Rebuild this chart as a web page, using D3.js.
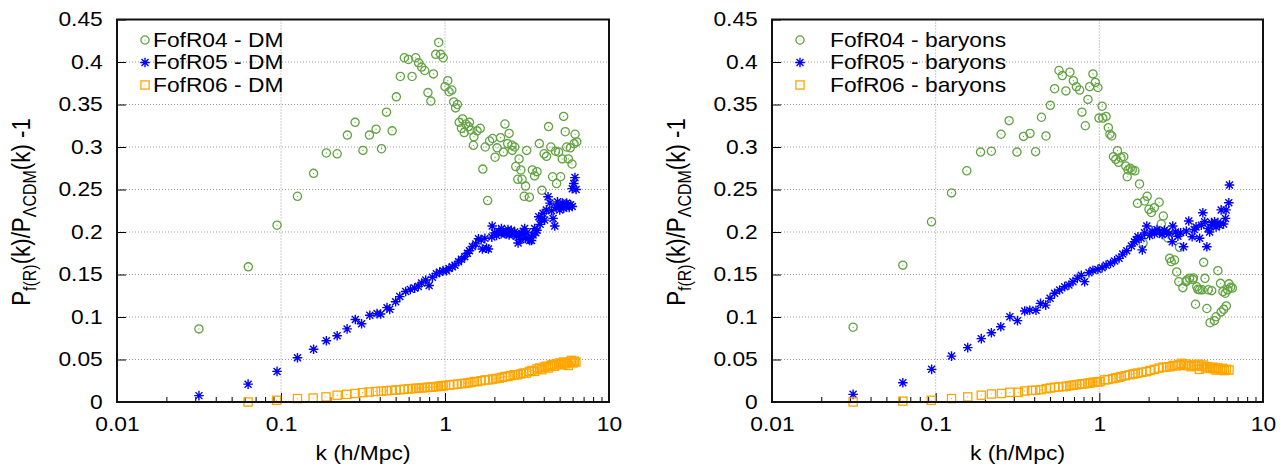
<!DOCTYPE html>
<html>
<head>
<meta charset="utf-8">
<script src="https://cdn.jsdelivr.net/npm/d3@7"></script>
<style>
body { margin: 0; background: #fff; }
text { font-family: "Liberation Sans", Arial, Helvetica, sans-serif; fill: #000; }
</style>
</head>
<body>
<svg id="chart" width="1288" height="472"></svg>
<script>
// ---- data: [k (h/Mpc), P_f(R)/P_LCDM - 1] ----
const dmR04 = [[0.0316,0.086],[0.0632,0.159],[0.0946,0.208],[0.126,0.242],[0.158,0.269],[0.189,0.293],[0.22,0.292],[0.254,0.314],[0.283,0.329],[0.316,0.296],[0.346,0.314],[0.38,0.321],[0.41,0.298],[0.44,0.341],[0.476,0.319],[0.505,0.359],[0.534,0.383],[0.565,0.405],[0.598,0.403],[0.63,0.383],[0.663,0.405],[0.69,0.399],[0.72,0.394],[0.752,0.39],[0.787,0.364],[0.82,0.354],[0.85,0.386],[0.878,0.409],[0.915,0.423],[0.941,0.409],[0.975,0.405],[1.0,0.371],[1.04,0.378],[1.06,0.365],[1.1,0.367],[1.13,0.353],[1.16,0.346],[1.19,0.35],[1.22,0.329],[1.26,0.322],[1.28,0.333],[1.31,0.317],[1.34,0.327],[1.39,0.324],[1.41,0.329],[1.44,0.32],[1.49,0.302],[1.5,0.312],[1.57,0.319],[1.64,0.322],[1.7,0.274],[1.76,0.3],[1.82,0.237],[1.87,0.307],[1.95,0.31],[2.02,0.288],[2.08,0.299],[2.18,0.311],[2.27,0.294],[2.32,0.327],[2.41,0.304],[2.46,0.316],[2.56,0.302],[2.57,0.296],[2.66,0.3],[2.7,0.277],[2.78,0.262],[2.83,0.286],[2.9,0.273],[2.95,0.262],[3.04,0.242],[3.1,0.254],[3.15,0.296],[3.27,0.241],[3.41,0.273],[3.52,0.266],[3.64,0.271],[3.76,0.304],[3.9,0.249],[4.02,0.292],[4.16,0.289],[4.28,0.324],[4.42,0.3],[4.53,0.265],[4.72,0.295],[4.79,0.257],[4.93,0.294],[5.07,0.265],[5.19,0.286],[5.29,0.336],[5.41,0.318],[5.52,0.3],[5.65,0.286],[5.81,0.299],[5.95,0.28],[6.12,0.304],[6.21,0.315],[6.36,0.306]];
const dmR05 = [[0.0316,0.0075],[0.063,0.021],[0.0946,0.036],[0.126,0.052],[0.158,0.062],[0.189,0.072],[0.22,0.078],[0.253,0.086],[0.284,0.097],[0.31,0.092],[0.348,0.102],[0.385,0.104],[0.405,0.1035],[0.443,0.111],[0.46,0.109],[0.5,0.118],[0.53,0.124],[0.576,0.13],[0.615,0.1325],[0.653,0.134],[0.688,0.136],[0.72,0.14],[0.763,0.1435],[0.8,0.137],[0.838,0.1467],[0.886,0.151],[0.928,0.1526],[0.972,0.1545],[1.02,0.1545],[1.057,0.157],[1.11,0.159],[1.15,0.161],[1.21,0.165],[1.26,0.168],[1.32,0.171],[1.37,0.175],[1.41,0.178],[1.47,0.183],[1.54,0.186],[1.6,0.192],[1.66,0.191],[1.69,0.18],[1.75,0.1925],[1.79,0.181],[1.84,0.18],[1.93,0.194],[1.94,0.207],[2.0,0.199],[2.06,0.196],[2.13,0.201],[2.2,0.198],[2.21,0.204],[2.27,0.2],[2.32,0.198],[2.37,0.198],[2.42,0.203],[2.46,0.1965],[2.54,0.202],[2.6,0.197],[2.66,0.2],[2.72,0.195],[2.79,0.187],[2.86,0.197],[2.9,0.191],[2.93,0.198],[3.0,0.201],[3.06,0.204],[3.1,0.1925],[3.16,0.199],[3.21,0.1925],[3.29,0.19],[3.37,0.19],[3.44,0.1965],[3.52,0.204],[3.58,0.199],[3.64,0.202],[3.73,0.218],[3.8,0.209],[3.87,0.214],[3.96,0.222],[4.05,0.214],[4.15,0.226],[4.25,0.2415],[4.36,0.234],[4.46,0.225],[4.56,0.216],[4.67,0.207],[4.76,0.229],[4.85,0.2355],[4.93,0.23],[5.01,0.226],[5.1,0.231],[5.19,0.234],[5.3,0.228],[5.43,0.23],[5.52,0.234],[5.62,0.232],[5.72,0.229],[5.83,0.232],[5.97,0.23],[5.97,0.251],[6.1,0.257],[6.2,0.264],[6.3,0.25]];
const dmR06 = [[0.063,0.0],[0.094,0.002],[0.126,0.004],[0.157,0.0047],[0.188,0.006],[0.22,0.008],[0.251,0.009],[0.283,0.01],[0.314,0.011],[0.345,0.0118],[0.377,0.0123],[0.408,0.0128],[0.44,0.0133],[0.471,0.0137],[0.502,0.014],[0.534,0.0145],[0.565,0.015],[0.597,0.0155],[0.628,0.0158],[0.66,0.016],[0.691,0.0163],[0.722,0.0166],[0.754,0.017],[0.785,0.0172],[0.817,0.0175],[0.848,0.0178],[0.88,0.018],[0.911,0.0185],[0.942,0.0188],[0.974,0.019],[1.005,0.0196],[1.07,0.02],[1.13,0.0205],[1.19,0.021],[1.26,0.0215],[1.32,0.022],[1.38,0.0225],[1.44,0.023],[1.51,0.024],[1.57,0.024],[1.66,0.025],[1.76,0.026],[1.85,0.026],[1.95,0.027],[2.04,0.0275],[2.14,0.028],[2.23,0.029],[2.32,0.03],[2.42,0.03],[2.51,0.031],[2.64,0.032],[2.76,0.032],[2.89,0.033],[3.01,0.034],[3.14,0.034],[3.27,0.036],[3.39,0.037],[3.52,0.036],[3.64,0.039],[3.77,0.04],[3.89,0.038],[4.02,0.041],[4.14,0.042],[4.27,0.04],[4.4,0.043],[4.52,0.044],[4.65,0.042],[4.77,0.045],[4.9,0.044],[5.02,0.046],[5.15,0.044],[5.28,0.047],[5.4,0.045],[5.53,0.046],[5.65,0.043],[5.78,0.047],[5.9,0.049],[6.03,0.046],[6.15,0.048],[6.28,0.047]];

const barR04 = [[0.0313,0.088],[0.063,0.161],[0.0943,0.212],[0.125,0.246],[0.155,0.272],[0.188,0.294],[0.219,0.295],[0.251,0.315],[0.281,0.331],[0.314,0.294],[0.344,0.3125],[0.377,0.316],[0.408,0.2945],[0.443,0.335],[0.472,0.313],[0.502,0.349],[0.533,0.3686],[0.567,0.39],[0.594,0.384],[0.625,0.366],[0.661,0.388],[0.694,0.378],[0.724,0.371],[0.758,0.367],[0.783,0.341],[0.821,0.325],[0.852,0.356],[0.873,0.371],[0.914,0.386],[0.945,0.376],[0.98,0.37],[0.995,0.334],[1.04,0.348],[1.05,0.334],[1.1,0.336],[1.135,0.3227],[1.16,0.315],[1.19,0.313],[1.22,0.2886],[1.26,0.2855],[1.29,0.2957],[1.31,0.282],[1.355,0.2874],[1.41,0.2886],[1.45,0.2776],[1.48,0.265],[1.5,0.273],[1.545,0.275],[1.59,0.273],[1.65,0.272],[1.71,0.2337],[1.76,0.2565],[1.85,0.187],[1.89,0.2365],[1.96,0.242],[2.01,0.2267],[2.08,0.223],[2.17,0.2286],[2.32,0.235],[2.39,0.2094],[2.46,0.2188],[2.62,0.193],[2.69,0.169],[2.75,0.165],[2.88,0.167],[2.97,0.153],[3.06,0.1416],[3.09,0.182],[3.24,0.1345],[3.39,0.1416],[3.42,0.1435],[3.56,0.1455],[3.73,0.144],[3.76,0.146],[3.87,0.115],[3.94,0.1356],[4.0,0.1326],[4.1,0.132],[4.25,0.132],[4.34,0.1643],[4.42,0.1455],[4.54,0.11],[4.63,0.132],[4.75,0.0933],[4.86,0.131],[5.05,0.0957],[5.17,0.1003],[5.3,0.1545],[5.5,0.1396],[5.55,0.106],[5.69,0.1298],[5.75,0.109],[5.88,0.128],[5.97,0.113],[6.08,0.132],[6.2,0.139],[6.34,0.135],[6.5,0.134]];
const barR05 = [[0.0313,0.009],[0.063,0.0227],[0.0945,0.0384],[0.125,0.054],[0.157,0.064],[0.19,0.0745],[0.219,0.0815],[0.25,0.0886],[0.284,0.1004],[0.316,0.0957],[0.35,0.107],[0.376,0.108],[0.41,0.108],[0.437,0.116],[0.47,0.114],[0.5,0.122],[0.533,0.128],[0.572,0.1318],[0.614,0.1357],[0.652,0.1376],[0.69,0.1416],[0.734,0.1455],[0.776,0.149],[0.813,0.1416],[0.864,0.152],[0.914,0.155],[0.98,0.156],[1.04,0.158],[1.1,0.161],[1.17,0.163],[1.24,0.166],[1.32,0.169],[1.39,0.174],[1.47,0.178],[1.57,0.1835],[1.64,0.1886],[1.68,0.191],[1.72,0.1945],[1.8,0.1926],[1.83,0.179],[1.89,0.199],[1.95,0.207],[2.03,0.196],[2.1,0.201],[2.17,0.198],[2.25,0.203],[2.33,0.2],[2.42,0.197],[2.5,0.202],[2.58,0.2],[2.66,0.198],[2.79,0.1886],[2.81,0.207],[2.92,0.2],[3.02,0.195],[3.14,0.199],[3.27,0.1827],[3.4,0.201],[3.52,0.213],[3.69,0.1945],[3.8,0.203],[3.9,0.206],[4.1,0.1926],[4.2,0.208],[4.29,0.2227],[4.4,0.212],[4.54,0.1827],[4.62,0.204],[4.72,0.2],[4.85,0.211],[4.95,0.208],[5.06,0.212],[5.17,0.206],[5.3,0.211],[5.42,0.208],[5.55,0.226],[5.74,0.2094],[5.9,0.216],[5.95,0.226],[6.18,0.2345],[6.24,0.2553]];
const barR06 = [[0.0313,0.0],[0.063,0.001],[0.094,0.002],[0.125,0.004],[0.157,0.006],[0.19,0.008],[0.219,0.0094],[0.252,0.01],[0.284,0.0114],[0.32,0.0114],[0.35,0.013],[0.385,0.0137],[0.408,0.0138],[0.44,0.0145],[0.475,0.0157],[0.502,0.0165],[0.533,0.0173],[0.565,0.0177],[0.6,0.018],[0.628,0.0186],[0.66,0.0192],[0.691,0.0198],[0.722,0.0203],[0.758,0.0208],[0.785,0.0212],[0.817,0.0216],[0.852,0.022],[0.88,0.0225],[0.911,0.023],[0.942,0.0233],[0.974,0.0236],[1.01,0.024],[1.077,0.026],[1.13,0.0265],[1.21,0.0275],[1.26,0.0283],[1.32,0.029],[1.36,0.03],[1.44,0.031],[1.53,0.032],[1.6,0.0328],[1.66,0.0335],[1.72,0.034],[1.82,0.035],[1.94,0.0357],[2.04,0.037],[2.17,0.0384],[2.32,0.0398],[2.45,0.041],[2.57,0.0412],[2.69,0.0415],[2.82,0.043],[2.95,0.0424],[3.07,0.044],[3.17,0.0455],[3.27,0.043],[3.39,0.0447],[3.52,0.043],[3.64,0.0415],[3.77,0.0435],[3.9,0.0424],[4.02,0.0445],[4.09,0.0384],[4.2,0.042],[4.33,0.0435],[4.46,0.04],[4.6,0.0415],[4.77,0.0395],[4.93,0.041],[5.05,0.039],[5.17,0.0376],[5.3,0.04],[5.47,0.0384],[5.65,0.0395],[5.8,0.037],[5.97,0.0385],[6.2,0.0376]];

const dmNames = ['FofR04 - DM', 'FofR05 - DM', 'FofR06 - DM'];
const barNames = ['FofR04 - baryons', 'FofR05 - baryons', 'FofR06 - baryons'];

const kTicks = [0.01, 0.1, 1, 10];
const kTickLabels = ['0.01', '0.1', '1', '10'];
const kMinor = [0.02,0.03,0.04,0.05,0.06,0.07,0.08,0.09,0.2,0.3,0.4,0.5,0.6,0.7,0.8,0.9,2,3,4,5,6,7,8,9];
const yTicks = [0, 0.05, 0.1, 0.15, 0.2, 0.25, 0.3, 0.35, 0.4, 0.45];
const yTickLabels = ['0', '0.05', '0.1', '0.15', '0.2', '0.25', '0.3', '0.35', '0.4', '0.45'];

const colors = ['#62a342', '#0000ff', '#ffa500'];
const SX = 1.14;   // reference text is a bit wider than Liberation Sans
const FS = 20;
const plotTop = 19.5, plotBottom = 402;

const svg = d3.select('#chart');

drawPanel({left: 117, right: 609, series: [dmR04, dmR05, dmR06], names: dmNames, symX: 145, textX: 153});
drawPanel({left: 772, right: 1263, series: [barR04, barR05, barR06], names: barNames, symX: 800, textX: 830});

function stretch(sel, ox) {
	sel.attr('transform', `translate(${ox},0) scale(${SX},1) translate(${-ox},0)`);
}

function marker(g, type, color) {
	if (type === 0) {
		g.append('circle').attr('r', 4.1).attr('fill', 'none').attr('stroke', color).attr('stroke-width', 1.3);
		g.append('circle').attr('r', 0.6).attr('fill', color);
	} else if (type === 1) {
		g.append('path')
			.attr('d', 'M-4.8,0H4.8M0,-4.8V4.8M-3.5,-3.5L3.5,3.5M-3.5,3.5L3.5,-3.5')
			.attr('stroke', color).attr('stroke-width', 1.4).attr('fill', 'none');
	} else {
		g.append('rect').attr('x', -4.1).attr('y', -4.1).attr('width', 8.2).attr('height', 8.2)
			.attr('fill', 'none').attr('stroke', color).attr('stroke-width', 1.3);
		g.append('circle').attr('r', 0.6).attr('fill', color);
	}
}

function drawPanel(p) {
	const x = d3.scaleLog().domain([0.01, 10]).range([p.left, p.right]);
	const y = d3.scaleLinear().domain([0, 0.45]).range([plotBottom, plotTop]);
	const root = svg.append('g');

	// dotted grid
	const grid = root.append('g').attr('stroke', '#9a9a9a').attr('stroke-width', 1)
		.attr('stroke-dasharray', '1,2');
	grid.selectAll('.gy').data(yTicks.slice(1, -1)).enter().append('line')
		.attr('x1', p.left).attr('x2', p.right)
		.attr('y1', d => y(d)).attr('y2', d => y(d));
	grid.selectAll('.gx').data(kTicks.slice(1, -1)).enter().append('line')
		.attr('y1', plotTop).attr('y2', plotBottom)
		.attr('x1', d => x(d)).attr('x2', d => x(d));

	// axes, ticks pointing inward
	const xAxis = root.append('g').attr('transform', `translate(0,${plotBottom})`)
		.call(d3.axisBottom(x).tickValues(kTicks).tickSize(-9).tickPadding(15)
			.tickFormat((d, i) => kTickLabels[i]));
	root.append('g').attr('transform', `translate(0,${plotBottom})`)
		.call(d3.axisBottom(x).tickValues(kMinor).tickSize(-5).tickFormat(''))
		.select('.domain').remove();
	const yAxis = root.append('g').attr('transform', `translate(${p.left},0)`)
		.call(d3.axisLeft(y).tickValues(yTicks).tickSize(-9).tickPadding(12.5)
			.tickFormat((d, i) => yTickLabels[i]));
	[xAxis, yAxis].forEach(a => a.select('.domain').remove());
	root.selectAll('.tick line').attr('stroke', '#000').attr('stroke-width', 1);
	root.selectAll('.tick text').attr('font-size', FS).attr('font-family', null)
		.attr('transform', `scale(${SX},1)`);

	// points
	p.series.forEach((s, si) => {
		const pts = root.append('g').selectAll('g').data(s).enter().append('g')
			.attr('transform', d => `translate(${x(d[0])},${y(d[1])})`);
		pts.each(function() { marker(d3.select(this), si, colors[si]); });
	});

	// border
	root.append('rect').attr('x', p.left).attr('y', plotTop)
		.attr('width', p.right - p.left).attr('height', plotBottom - plotTop)
		.attr('fill', 'none').attr('stroke', '#111').attr('stroke-width', 2);

	// legend
	p.names.forEach((name, i) => {
		const cy = 40 + i * 22.5;
		marker(root.append('g').attr('transform', `translate(${p.symX},${cy})`), i, colors[i]);
		root.append('text').attr('x', p.textX).attr('y', cy + 7).attr('font-size', FS)
			.text(name).call(stretch, p.textX);
	});

	// axis labels
	const cx = (p.left + p.right) / 2;
	root.append('text').attr('x', cx).attr('y', 460).attr('text-anchor', 'middle')
		.attr('font-size', FS).text('k (h/Mpc)').call(stretch, cx);

	const yl = root.append('text').attr('text-anchor', 'middle').attr('font-size', 22.3)
		.attr('transform', `translate(${p.left - 87},212) rotate(-90) scale(1,${SX})`);
	yl.append('tspan').text('P');
	yl.append('tspan').attr('font-size', 16).attr('dy', 5).text('f(R)');
	yl.append('tspan').attr('dy', -5).text('(k)/P');
	yl.append('tspan').attr('font-size', 16).attr('dy', 5).text('\u039BCDM');
	yl.append('tspan').attr('dy', -5).text('(k) -1');
}
</script>
</body>
</html>
